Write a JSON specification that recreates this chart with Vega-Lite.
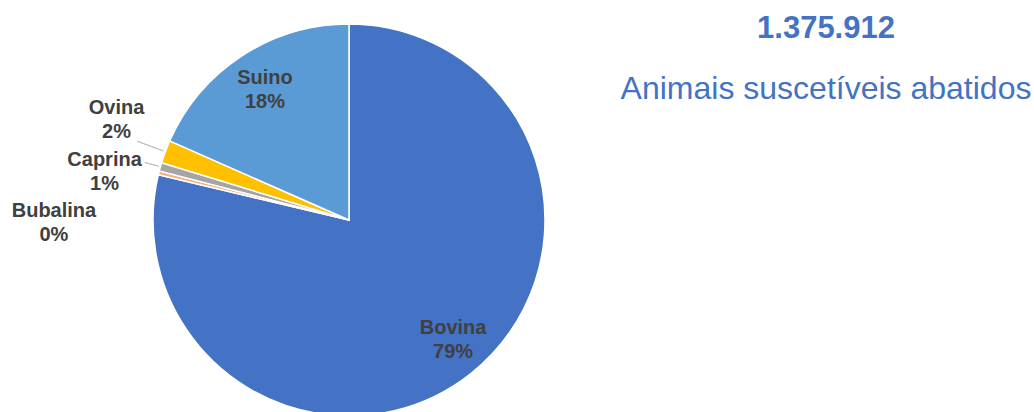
{
  "$schema": "https://vega.github.io/schema/vega-lite/v6.json",
  "padding": 0,
  "background": "white",
  "spacing": 0,
  "bounds": "flush",
  "config": {"view": {"stroke": null}, "font": "Liberation Sans"},
  "hconcat": [
    {
      "width": 698,
      "height": 440,
      "data": {"values": [
        {"idx": 1, "especie": "Bovina", "animais": 1083000},
        {"idx": 2, "especie": "Bubalina", "animais": 4412},
        {"idx": 3, "especie": "Caprina", "animais": 9500},
        {"idx": 4, "especie": "Ovina", "animais": 26000},
        {"idx": 5, "especie": "Suino", "animais": 253000}
      ]},
      "transform": [
        {"stack": "animais", "groupby": [], "offset": "normalize", "sort": [{"field": "idx", "order": "ascending"}], "as": ["t0", "t1"]},
        {"calculate": "(datum.t0 + datum.t1) / 2", "as": "meio"},
        {"calculate": "datum.especie + '\\n' + format(datum.t1 - datum.t0, '.0%')", "as": "rotulo"}
      ],
      "layer": [
        {
          "mark": {"type": "arc", "radius": 196, "stroke": "white", "strokeWidth": 1.5},
          "encoding": {
            "theta": {"field": "t0", "type": "quantitative", "scale": {"domain": [0, 1], "nice": false, "zero": true}},
            "theta2": {"field": "t1"},
            "color": {
              "field": "especie", "type": "nominal", "legend": null,
              "scale": {"domain": ["Bovina", "Bubalina", "Caprina", "Ovina", "Suino"],
                        "range": ["#4472C4", "#F4B183", "#A5A5A5", "#FFC000", "#5B9BD5"]}
            }
          }
        },
        {
          "transform": [{"filter": "datum.especie == 'Ovina'"}],
          "mark": {"type": "arc", "radius": 226, "radius2": 198, "fill": null, "stroke": "#BFBFBF", "strokeWidth": 1},
          "encoding": {"theta": {"field": "meio", "type": "quantitative"}, "theta2": {"field": "meio"}}
        },
        {
          "transform": [{"filter": "datum.especie == 'Caprina'"}],
          "mark": {"type": "arc", "radius": 212, "radius2": 198, "fill": null, "stroke": "#BFBFBF", "strokeWidth": 1},
          "encoding": {"theta": {"field": "meio", "type": "quantitative"}, "theta2": {"field": "meio"}}
        },
        {
          "transform": [{"filter": "datum.especie == 'Bovina'"}],
          "mark": {"type": "text", "radius": 155, "dx": 8, "dy": -14, "fontSize": 20, "fontWeight": "bold", "color": "#404040", "lineBreak": "\n", "lineHeight": 24, "align": "center", "baseline": "middle"},
          "encoding": {"theta": {"field": "meio", "type": "quantitative"}, "text": {"field": "rotulo"}}
        },
        {
          "transform": [{"filter": "datum.especie == 'Suino'"}],
          "mark": {"type": "text", "radius": 165, "dx": 6, "dy": -4, "fontSize": 20, "fontWeight": "bold", "color": "#404040", "lineBreak": "\n", "lineHeight": 24, "align": "center", "baseline": "middle"},
          "encoding": {"theta": {"field": "meio", "type": "quantitative"}, "text": {"field": "rotulo"}}
        },
        {
          "transform": [{"filter": "datum.especie == 'Ovina'"}],
          "mark": {"type": "text", "radius": 248, "dy": -26, "fontSize": 20, "fontWeight": "bold", "color": "#404040", "lineBreak": "\n", "lineHeight": 24, "align": "center", "baseline": "middle"},
          "encoding": {"theta": {"field": "meio", "type": "quantitative"}, "text": {"field": "rotulo"}}
        },
        {
          "transform": [{"filter": "datum.especie == 'Caprina'"}],
          "mark": {"type": "text", "radius": 254, "dy": 9, "fontSize": 20, "fontWeight": "bold", "color": "#404040", "lineBreak": "\n", "lineHeight": 24, "align": "center", "baseline": "middle"},
          "encoding": {"theta": {"field": "meio", "type": "quantitative"}, "text": {"field": "rotulo"}}
        },
        {
          "transform": [{"filter": "datum.especie == 'Bubalina'"}],
          "mark": {"type": "text", "radius": 304, "dy": 64, "fontSize": 20, "fontWeight": "bold", "color": "#404040", "lineBreak": "\n", "lineHeight": 24, "align": "center", "baseline": "middle"},
          "encoding": {"theta": {"field": "meio", "type": "quantitative"}, "text": {"field": "rotulo"}}
        }
      ]
    },
    {
      "width": 256,
      "height": 120,
      "data": {"values": [
        {"tipo": "total", "texto": "1.375.912"},
        {"tipo": "descricao", "texto": "Animais suscetíveis abatidos"}
      ]},
      "encoding": {
        "y": {"field": "tipo", "type": "nominal", "axis": null,
              "scale": {"domain": ["total", "descricao"], "range": [29, 89], "padding": 0}},
        "text": {"field": "texto"}
      },
      "layer": [
        {
          "transform": [{"filter": "datum.tipo == 'total'"}],
          "mark": {"type": "text", "fontSize": 31, "fontWeight": "bold", "color": "#4472C4", "align": "center", "baseline": "middle"}
        },
        {
          "transform": [{"filter": "datum.tipo == 'descricao'"}],
          "mark": {"type": "text", "fontSize": 32, "color": "#4472C4", "align": "center", "baseline": "middle"}
        }
      ]
    }
  ]
}
